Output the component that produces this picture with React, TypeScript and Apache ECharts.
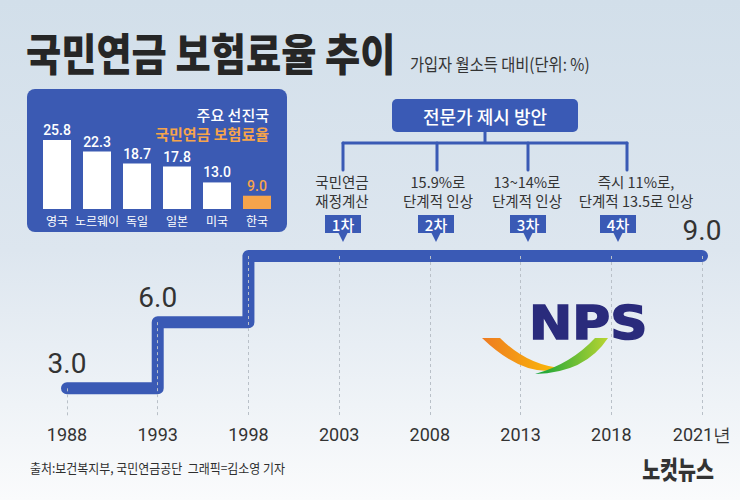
import React, { useEffect, useRef } from "react";
import * as echarts from "echarts";

// ---- data ----
const years = ["1988", "1993", "1998", "2003", "2008", "2013", "2018", "2021년"];
const rates = [3.0, 6.0, 9.0, 9.0, 9.0, 9.0, 9.0, 9.0];
const labeledYears = ["1988", "1993", "2021년"];

const countries = ["영국", "노르웨이", "독일", "일본", "미국", "한국"];
const countryRates = [25.8, 22.3, 18.7, 17.8, 13.0, 9.0];
const highlightCountry = "한국";

const proposalSteps = ["1차", "2차", "3차", "4차"];
const proposalTexts = [
  "국민연금\n재정계산",
  "15.9%로\n단계적 인상",
  "13~14%로\n단계적 인상",
  "즉시 11%로,\n단계적 13.5로 인상",
];

// ---- styling constants ----
const BLUE = "#3a5ab5";
const ORANGE = "#f6a44b";
const TEXT = "#333333";
const KR = "'Noto Sans CJK KR', 'Noto Sans', sans-serif";
const NUM = "Roboto, 'Noto Sans', sans-serif";

const markerX = [343, 436, 528, 618];
const dropX = [343, 437, 528, 627];
const textX = [342, 438, 527, 636];

echarts.graphic.registerShape(
  "swooshOrange",
  echarts.graphic.extendPath("M0,0 L18,0 Q45,27 79,30 Q44,42 0,0 Z", {})
);
echarts.graphic.registerShape(
  "swooshGreen",
  echarts.graphic.extendPath("M0,0 Q50,-1 73,-36 L60,-36 Q36,-10 0,0 Z", {})
);

export default function App() {
  const ref = useRef<HTMLDivElement>(null);

  useEffect(() => {
    if (!ref.current) return;
    const chart = echarts.init(ref.current, undefined, { renderer: "svg" });

    const yMin = 1.7;

    const graphics: any[] = [];

    // Title & subtitle
    graphics.push({
      type: "text",
      x: 26,
      y: 52,
      scaleX: 0.87,
      z: 10,
      style: {
        text: "국민연금 보험료율 추이",
        fill: "#262626",
        fontSize: 44,
        fontWeight: 900,
        fontFamily: KR,
        textVerticalAlign: "middle",
      },
    });
    graphics.push({
      type: "text",
      x: 410,
      y: 64,
      scaleX: 0.9,
      z: 10,
      style: {
        text: "가입자 월소득 대비(단위: %)",
        fill: TEXT,
        fontSize: 17,
        fontFamily: KR,
        textVerticalAlign: "middle",
      },
    });

    // Inset blue box
    graphics.push({
      type: "rect",
      z: 0,
      shape: { x: 27, y: 89, width: 260, height: 143, r: 8 },
      style: { fill: "#3b5ab3" },
    });
    graphics.push({
      type: "text",
      x: 269,
      y: 114,
      z: 10,
      style: {
        text: "주요 선진국",
        fill: "#ffffff",
        fontSize: 15,
        fontWeight: 500,
        fontFamily: KR,
        textAlign: "right",
        textVerticalAlign: "middle",
      },
    });
    graphics.push({
      type: "text",
      x: 269,
      y: 133,
      z: 10,
      style: {
        text: "국민연금 보험료율",
        fill: ORANGE,
        fontSize: 15,
        fontWeight: "bold",
        fontFamily: KR,
        textAlign: "right",
        textVerticalAlign: "middle",
      },
    });

    // Tree diagram
    graphics.push({
      type: "rect",
      z: 5,
      shape: { x: 392, y: 99, width: 186, height: 33, r: 5 },
      style: { fill: BLUE },
    });
    graphics.push({
      type: "text",
      x: 485,
      y: 116,
      z: 10,
      style: {
        text: "전문가 제시 방안",
        fill: "#ffffff",
        fontSize: 18,
        fontWeight: 500,
        fontFamily: KR,
        textAlign: "center",
        textVerticalAlign: "middle",
      },
    });
    graphics.push({
      type: "line",
      z: 4,
      shape: { x1: 485, y1: 132, x2: 485, y2: 143 },
      style: { stroke: BLUE, lineWidth: 3 },
    });
    graphics.push({
      type: "line",
      z: 4,
      shape: { x1: dropX[0], y1: 143, x2: dropX[3], y2: 143 },
      style: { stroke: BLUE, lineWidth: 3, lineCap: "round" },
    });
    dropX.forEach((x) => {
      graphics.push({
        type: "line",
        z: 4,
        shape: { x1: x, y1: 143, x2: x, y2: 170 },
        style: { stroke: BLUE, lineWidth: 3, lineCap: "round" },
      });
    });
    proposalTexts.forEach((t, i) => {
      graphics.push({
        type: "text",
        x: textX[i],
        y: 191,
        z: 10,
        style: {
          text: t,
          fill: TEXT,
          fontSize: 14.5,
          lineHeight: 19,
          fontFamily: KR,
          textAlign: "center",
          textVerticalAlign: "middle",
        },
      });
    });
    proposalSteps.forEach((s, i) => {
      const cx = markerX[i];
      graphics.push({
        type: "rect",
        z: 6,
        shape: { x: cx - 18, y: 215, width: 36, height: 18 },
        style: { fill: BLUE },
      });
      graphics.push({
        type: "polygon",
        z: 6,
        shape: { points: [[cx - 5, 232], [cx + 5, 232], [cx, 242]] },
        style: { fill: BLUE },
      });
      graphics.push({
        type: "text",
        x: cx,
        y: 224.5,
        z: 10,
        style: {
          text: s,
          fill: "#ffffff",
          fontSize: 15,
          fontWeight: 500,
          fontFamily: KR,
          textAlign: "center",
          textVerticalAlign: "middle",
        },
      });
    });

    // NPS logo
    graphics.push({
      type: "text",
      x: 529,
      y: 323,
      scaleX: 1.1,
      z: 10,
      style: {
        text: "NPS",
        fill: "#2a2b7c",
        fontSize: 47,
        fontWeight: 900,
        fontFamily: "'DejaVu Sans', sans-serif",
        textVerticalAlign: "middle",
        stroke: "#2a2b7c",
        lineWidth: 1.5,
      },
    });
    graphics.push({
      type: "swooshOrange",
      x: 482,
      y: 338,
      z: 9,
      style: {
        fill: new echarts.graphic.LinearGradient(0, 0, 1, 0, [
          { offset: 0, color: "#ee7b22" },
          { offset: 1, color: "#fbbd05" },
        ]),
      },
    });
    graphics.push({
      type: "swooshGreen",
      x: 535,
      y: 374,
      z: 9,
      style: {
        fill: new echarts.graphic.LinearGradient(0, 0, 1, 0, [
          { offset: 0, color: "#10a23a" },
          { offset: 1, color: "#b9d532" },
        ]),
      },
    });

    // Footer
    graphics.push({
      type: "text",
      x: 30,
      y: 468,
      scaleX: 0.92,
      z: 10,
      style: {
        text: "출처:보건복지부, 국민연금공단  그래픽=김소영 기자",
        fill: "#2e2e2e",
        fontSize: 13,
        fontFamily: KR,
        textVerticalAlign: "middle",
      },
    });
    graphics.push({
      type: "text",
      x: 678,
      y: 468,
      scaleX: 0.78,
      z: 10,
      style: {
        text: "노컷뉴스",
        fill: "#333333",
        fontSize: 25,
        fontWeight: 900,
        fontFamily: KR,
        textAlign: "center",
        textVerticalAlign: "middle",
      },
    });

    const option: any = {
      animation: false,
      backgroundColor: new echarts.graphic.LinearGradient(0, 0, 0, 1, [
        { offset: 0, color: "#d2dfea" },
        { offset: 0.5, color: "#dde6ef" },
        { offset: 1, color: "#fafbfc" },
      ]),
      grid: [
        { left: 67, width: 635, top: 256, bottom: 83 },
        { left: 37, width: 240, top: 126, height: 83 },
      ],
      xAxis: [
        {
          type: "category",
          gridIndex: 0,
          data: years,
          boundaryGap: false,
          axisLine: { show: false },
          axisTick: { show: false },
          splitLine: { show: false },
          axisLabel: {
            color: TEXT,
            fontSize: 18,
            fontFamily: NUM,
            margin: 8,
            interval: 0,
          },
        },
        {
          type: "category",
          gridIndex: 1,
          data: countries,
          axisLine: { show: false },
          axisTick: { show: false },
          axisLabel: {
            color: "#ffffff",
            fontSize: 12,
            fontFamily: KR,
            margin: 5,
            interval: 0,
          },
        },
      ],
      yAxis: [
        { type: "value", gridIndex: 0, min: yMin, max: 9, show: false },
        { type: "value", gridIndex: 1, min: 5, max: 30, show: false },
      ],
      graphic: graphics,
      series: [
        {
          type: "line",
          xAxisIndex: 0,
          yAxisIndex: 0,
          data: rates,
          z: 1,
          silent: true,
          symbol: "none",
          lineStyle: { opacity: 0 },
          markLine: {
            silent: true,
            symbol: ["none", "none"],
            label: { show: false },
            lineStyle: { type: [3, 3], color: "#b9c0c8", width: 1 },
            data: years.map((y, i) => [
              { coord: [y, rates[i]] },
              { coord: [y, yMin] },
            ]),
          },
        },
        {
          type: "line",
          xAxisIndex: 0,
          yAxisIndex: 0,
          step: "end",
          clip: false,
          z: 3,
          symbol: "circle",
          symbolSize: 0.1,
          showSymbol: true,
          itemStyle: { color: BLUE },
          lineStyle: { color: BLUE, width: 12, cap: "round", join: "round" },
          data: rates.map((v, i) => ({
            value: v,
            label: {
              show: labeledYears.includes(years[i]),
              position: "top",
              distance: 11,
              formatter: (p: any) => Number(p.value).toFixed(1),
              color: TEXT,
              fontSize: 28,
              fontFamily: NUM,
            },
          })),
        },
        {
          type: "bar",
          xAxisIndex: 1,
          yAxisIndex: 1,
          barWidth: 28,
          z: 5,
          data: countryRates.map((v, i) => {
            const hi = countries[i] === highlightCountry;
            return {
              value: v,
              itemStyle: { color: hi ? ORANGE : "#ffffff" },
              label: {
                show: true,
                position: "top",
                distance: 3,
                formatter: (p: any) => Number(p.value).toFixed(1),
                color: hi ? ORANGE : "#ffffff",
                fontSize: 14,
                fontWeight: 500,
                fontFamily: NUM,
              },
            };
          }),
        },
      ],
    };

    chart.setOption(option);
    return () => chart.dispose();
  }, []);

  return (
    <div
      ref={ref}
      style={{ position: "fixed", left: 0, top: 0, width: 740, height: 500 }}
    />
  );
}
